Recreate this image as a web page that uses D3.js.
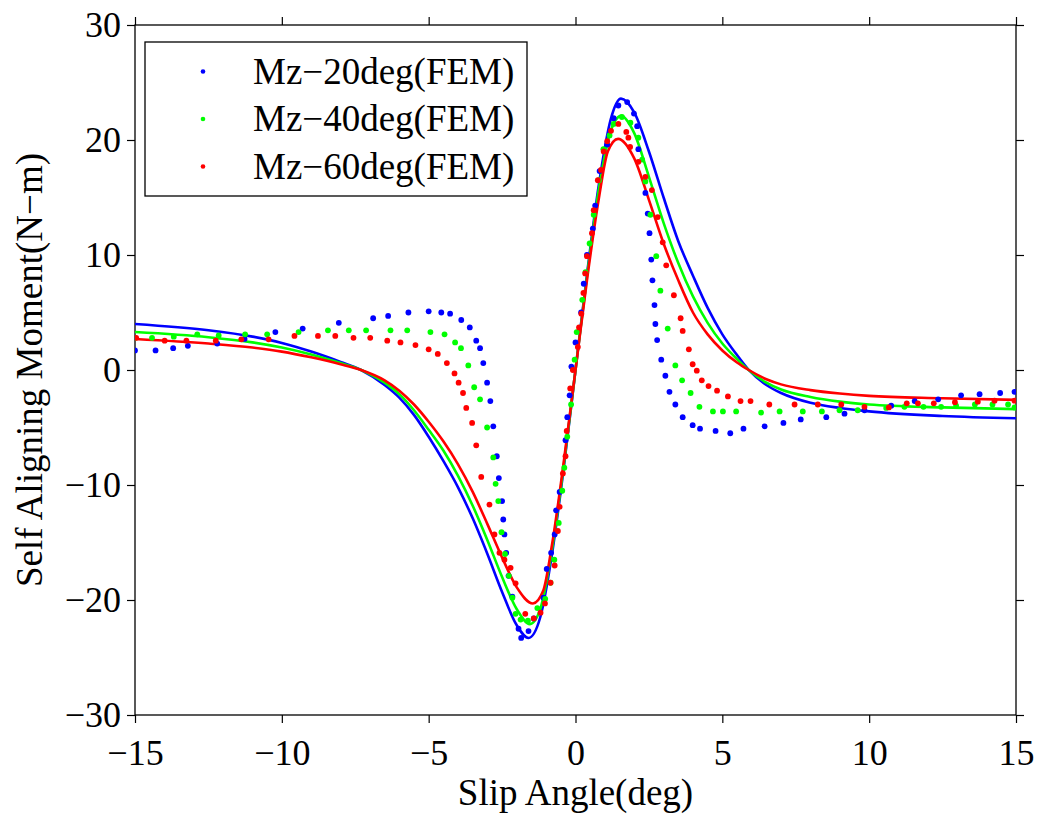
<!DOCTYPE html>
<html>
<head>
<meta charset="utf-8">
<script src="https://cdn.jsdelivr.net/npm/d3@7"></script>
<style>
  html, body { margin: 0; padding: 0; background: #fff; }
  svg { display: block; }
  text { font-family: "Liberation Serif", "Times New Roman", serif; fill: #000; }
</style>
</head>
<body>
<div id="chart"></div>
<script>
// ---------- Data ----------
const seriesNames = ["Mz\u221220deg(FEM)", "Mz\u221240deg(FEM)", "Mz\u221260deg(FEM)"];
const xTicks = [-15, -10, -5, 0, 5, 10, 15];
const yTicks = [-30, -20, -10, 0, 10, 20, 30];
const xLabel = "Slip Angle(deg)";
const yLabel = "Self Aligning Moment(N\u2212m)";

// FEM points, 20 deg
const dots20X = [-15.0,-14.3,-13.7,-13.2,-12.2,-11.27,-10.22,-9.29,-8.06,-6.89,-6.38,-5.69,-5.0,-4.57,-4.27,-3.89,-3.6,-3.38,-3.25,-3.14,-3.01,-2.9,-2.8,-2.68,-2.61,-2.5,-2.46,-2.42,-2.36,-2.28,-2.15,-1.94,-1.85,-1.6,-1.42,-1.09,-0.98,-0.83,-0.71,-0.66,-0.54,-0.34,-0.28,-0.2,-0.14,0.0,0.19,0.28,0.39,0.59,0.67,0.82,1.08,1.3,1.46,1.76,1.99,2.1,2.14,2.38,2.46,2.52,2.58,2.62,2.69,2.72,2.78,2.92,3.06,3.2,3.4,3.65,3.99,4.24,4.77,5.27,5.72,6.44,7.08,7.67,8.54,9.16,9.84,10.75,11.55,12.35,13.13,13.76,14.46,14.95];
const dots20Y = [1.7,1.7,1.9,2.1,2.3,2.7,3.3,3.6,4.1,4.5,4.7,5.0,5.1,5.0,4.9,4.35,3.7,2.55,1.9,0.6,-1.1,-2.7,-4.9,-7.5,-9.4,-11.4,-13.0,-14.3,-15.9,-17.9,-19.7,-22.5,-23.3,-22.7,-21.6,-19.8,-17.3,-15.9,-14.3,-12.2,-10.6,-6.1,-4.1,-2.2,0.3,2.4,5.0,7.5,10.0,12.3,14.3,17.3,19.6,21.9,23.0,23.3,22.3,21.2,19.2,15.4,13.6,11.9,9.6,7.8,5.65,4.0,2.6,0.9,-0.5,-1.9,-3.0,-4.1,-4.8,-5.1,-5.3,-5.5,-5.1,-4.9,-4.6,-4.3,-4.1,-3.8,-3.5,-3.1,-2.7,-2.55,-2.2,-2.1,-2.0,-1.9];

// FEM points, 40 deg
const dots40X = [-15.0,-14.42,-13.68,-12.88,-12.15,-11.25,-10.5,-9.43,-8.43,-7.72,-7.13,-6.3,-5.73,-4.94,-4.46,-4.1,-3.9,-3.65,-3.45,-3.25,-3.01,-2.8,-2.72,-2.63,-2.52,-2.4,-2.27,-2.15,-2.04,-1.87,-1.62,-1.3,-1.03,-0.85,-0.72,-0.57,-0.45,-0.38,-0.28,-0.15,-0.03,0.04,0.23,0.34,0.48,0.62,0.8,0.95,1.16,1.3,1.58,1.87,2.14,2.27,2.38,2.55,2.75,2.89,3.14,3.4,3.63,3.92,4.22,4.68,5.02,5.47,6.32,6.95,7.74,8.39,8.99,9.61,10.58,11.2,11.85,12.45,12.96,13.6,14.2,14.73,14.95];
const dots40Y = [2.8,2.8,2.9,3.1,3.0,3.1,3.1,3.3,3.45,3.45,3.45,3.45,3.45,3.3,3.1,2.4,1.9,0.4,-1.5,-2.55,-5.0,-7.6,-9.9,-11.4,-14.1,-16.0,-17.9,-19.8,-21.2,-21.7,-21.8,-20.7,-19.9,-18.5,-16.5,-13.3,-10.5,-8.5,-5.8,-3.0,0.9,3.3,6.1,8.5,11.0,13.5,16.5,19.2,20.4,21.4,22.0,21.5,20.2,18.3,16.4,13.5,9.9,6.9,3.6,0.4,-0.9,-2.0,-3.2,-3.6,-3.6,-3.6,-3.7,-3.6,-3.6,-3.6,-3.5,-3.5,-3.3,-3.2,-3.2,-3.2,-3.1,-3.0,-3.0,-3.0,-3.25];

// FEM points, 60 deg
const dots60X = [-14.96,-13.99,-13.25,-12.25,-11.38,-10.45,-9.57,-8.77,-8.18,-7.56,-6.99,-6.41,-5.96,-5.45,-5.0,-4.69,-4.38,-4.12,-3.98,-3.83,-3.72,-3.52,-3.38,-3.21,-2.93,-2.76,-2.59,-2.42,-2.21,-2.04,-1.71,-1.42,-1.19,-1.04,-0.85,-0.71,-0.6,-0.54,-0.43,-0.34,-0.3,-0.18,-0.09,0.08,0.12,0.2,0.27,0.33,0.39,0.56,0.62,0.76,0.87,0.96,1.08,1.21,1.46,1.73,1.8,1.86,2.14,2.38,2.6,2.8,2.97,3.09,3.35,3.58,3.65,3.86,3.99,4.13,4.3,4.53,4.82,5.19,5.62,5.96,6.6,7.46,8.25,9.05,9.84,10.67,11.28,11.66,12.2,12.92,13.7,14.27,14.95];
const dots60Y = [2.8,2.55,2.55,2.55,2.67,2.67,2.96,2.96,2.96,2.8,2.8,2.55,2.4,2.17,1.8,1.4,0.6,-0.3,-1.1,-2.0,-3.3,-4.6,-6.55,-9.3,-11.7,-14.3,-15.9,-16.5,-17.2,-18.55,-21.2,-21.6,-21.1,-20.3,-18.5,-17.0,-14.0,-11.9,-9.0,-7.5,-5.3,-1.6,0.0,2.0,3.7,4.9,6.7,8.4,9.9,11.9,13.9,16.5,17.4,19.0,19.9,20.8,21.4,20.7,20.2,19.4,18.1,16.8,15.65,13.3,11.1,9.1,6.5,4.5,3.4,1.8,0.5,-0.06,-0.9,-1.4,-1.8,-2.3,-2.7,-2.7,-3.0,-3.0,-3.0,-3.0,-3.2,-3.25,-2.9,-2.9,-2.9,-2.8,-2.75,-2.67,-2.67];

// Fitted curves
const fit20X = [-15,-12.5,-11,-10,-9,-8,-7.3,-6.5,-6,-5.5,-5,-4.5,-4,-3.5,-3,-2.5,-2,-1.6,-1.2,-0.8,-0.4,0,0.4,0.8,1.2,1.55,2,2.5,3,3.5,4,4.5,5,5.5,5.9,6.5,7,8,9,10,12.5,15];
const fit20Y = [4.0,3.45,2.9,2.35,1.6,0.7,0,-1.3,-2.4,-3.9,-5.8,-7.9,-10.2,-12.9,-16.0,-19.3,-22.2,-23.3,-21.5,-16.0,-8.5,0,8.5,16.2,21.8,23.6,22.4,19.0,15.0,11.2,8.2,5.4,3.1,1.3,0,-1.3,-2.0,-2.85,-3.3,-3.6,-4.0,-4.2];
const fit40X = [-15,-12.5,-11,-10,-9,-8,-7.3,-6.5,-6,-5.5,-5,-4.5,-4,-3.5,-3,-2.5,-2,-1.55,-1.2,-0.8,-0.4,0,0.4,0.8,1.2,1.55,2,2.5,3,3.5,4,4.5,5,5.5,5.9,6.5,7,8,9,10,12.5,15];
const fit40Y = [3.3,2.85,2.4,1.95,1.35,0.6,0,-1.1,-2.1,-3.5,-5.2,-7.0,-9.2,-11.8,-14.8,-18.0,-20.8,-22.1,-20.8,-15.6,-8.3,0,8.3,15.8,20.8,22.1,20.6,16.8,12.8,9.3,6.4,4.1,2.3,0.95,0,-1.1,-1.7,-2.35,-2.75,-3.0,-3.25,-3.4];
const fit60X = [-15,-12.5,-11,-10,-9,-8,-7.3,-6.5,-6,-5.5,-5,-4.5,-4,-3.5,-3,-2.5,-2,-1.45,-1.1,-0.8,-0.4,0,0.4,0.8,1.1,1.45,2,2.5,3,3.5,4,4.5,5,5.5,5.9,6.5,7,8,9,10,12.5,15];
const fit60Y = [2.7,2.3,1.95,1.6,1.1,0.5,0,-0.9,-1.8,-3.0,-4.5,-6.2,-8.2,-10.6,-13.4,-16.3,-18.9,-20.3,-19.2,-15.2,-8.0,0,8.0,15.0,19.0,20.1,18.4,14.8,11.0,7.8,5.0,3.1,1.7,0.65,0,-0.8,-1.25,-1.75,-2.05,-2.25,-2.45,-2.6];

const colors = ["#0000ff", "#00ff00", "#ff0000"];

// ---------- Layout ----------
const W = 1039, H = 818;
const plot = { left: 135, right: 1016, top: 25, bottom: 715 };

const svg = d3.select("#chart").append("svg").attr("width", W).attr("height", H);

const x = d3.scaleLinear().domain([-15, 15]).range([plot.left, plot.right]);
const y = d3.scaleLinear().domain([-30, 30]).range([plot.bottom, plot.top]);

const FS_TICK = 36, FS_LABEL = 37, FS_LEG = 37;

// Axes (ticks outward on all four sides)
function styleAxis(g) {
  g.select(".domain").remove();
  g.selectAll(".tick line").attr("stroke", "#000").attr("stroke-width", 1.2);
  g.selectAll(".tick text").attr("font-family", "Liberation Serif, Times New Roman, serif").attr("font-size", FS_TICK).attr("fill", "#000");
}
svg.append("g").attr("transform", `translate(0,${plot.bottom})`)
  .call(d3.axisBottom(x).tickValues(xTicks).tickSize(8).tickPadding(16).tickFormat(d3.format("d")))
  .call(styleAxis);
svg.append("g").attr("transform", `translate(0,${plot.top})`)
  .call(d3.axisTop(x).tickValues(xTicks).tickSize(8).tickFormat(""))
  .call(styleAxis);
svg.append("g").attr("transform", `translate(${plot.left},0)`)
  .call(d3.axisLeft(y).tickValues(yTicks).tickSize(8).tickPadding(6).tickFormat(d3.format("d")))
  .call(styleAxis);
svg.append("g").attr("transform", `translate(${plot.right},0)`)
  .call(d3.axisRight(y).tickValues(yTicks).tickSize(8).tickFormat(""))
  .call(styleAxis);

// Frame
svg.append("rect")
  .attr("x", plot.left).attr("y", plot.top)
  .attr("width", plot.right - plot.left).attr("height", plot.bottom - plot.top)
  .attr("fill", "none").attr("stroke", "#000").attr("stroke-width", 1.3);

// Clip
svg.append("clipPath").attr("id", "clip").append("rect")
  .attr("x", plot.left).attr("y", plot.top)
  .attr("width", plot.right - plot.left).attr("height", plot.bottom - plot.top);
const gPlot = svg.append("g").attr("clip-path", "url(#clip)");

// Fitted lines
const fits = [[fit20X, fit20Y], [fit40X, fit40Y], [fit60X, fit60Y]];
const line = d3.line().x(d => x(d[0])).y(d => y(d[1])).curve(d3.curveMonotoneX);
fits.forEach(([xs, ys], i) => {
  gPlot.append("path")
    .datum(xs.map((v, k) => [v, ys[k]]))
    .attr("d", line)
    .attr("fill", "none")
    .attr("stroke", colors[i])
    .attr("stroke-width", 2.6);
});

// FEM dots
const dots = [[dots20X, dots20Y], [dots40X, dots40Y], [dots60X, dots60Y]];
dots.forEach(([xs, ys], i) => {
  gPlot.append("g").selectAll("circle")
    .data(xs.map((v, k) => [v, ys[k]]))
    .join("circle")
    .attr("cx", d => x(d[0]))
    .attr("cy", d => y(d[1]))
    .attr("r", 2.9)
    .attr("fill", colors[i]);
});

// Axis titles
svg.append("text")
  .attr("x", (plot.left + plot.right) / 2).attr("y", 805)
  .attr("text-anchor", "middle").attr("font-size", FS_LABEL)
  .text(xLabel);
svg.append("text")
  .attr("transform", `translate(42,${(plot.top + plot.bottom) / 2}) rotate(-90)`)
  .attr("text-anchor", "middle").attr("font-size", FS_LABEL)
  .text(yLabel);

// Legend
const leg = svg.append("g");
leg.append("rect")
  .attr("x", 145).attr("y", 42).attr("width", 382).attr("height", 154)
  .attr("fill", "#fff").attr("stroke", "#000").attr("stroke-width", 1.3);
seriesNames.forEach((name, i) => {
  const cy = 71.5 + i * 47.5;
  leg.append("circle").attr("cx", 203).attr("cy", cy).attr("r", 2.3).attr("fill", colors[i]);
  leg.append("text").attr("x", 253).attr("y", cy + 12).attr("font-size", FS_LEG).text(name);
});
</script>
</body>
</html>
